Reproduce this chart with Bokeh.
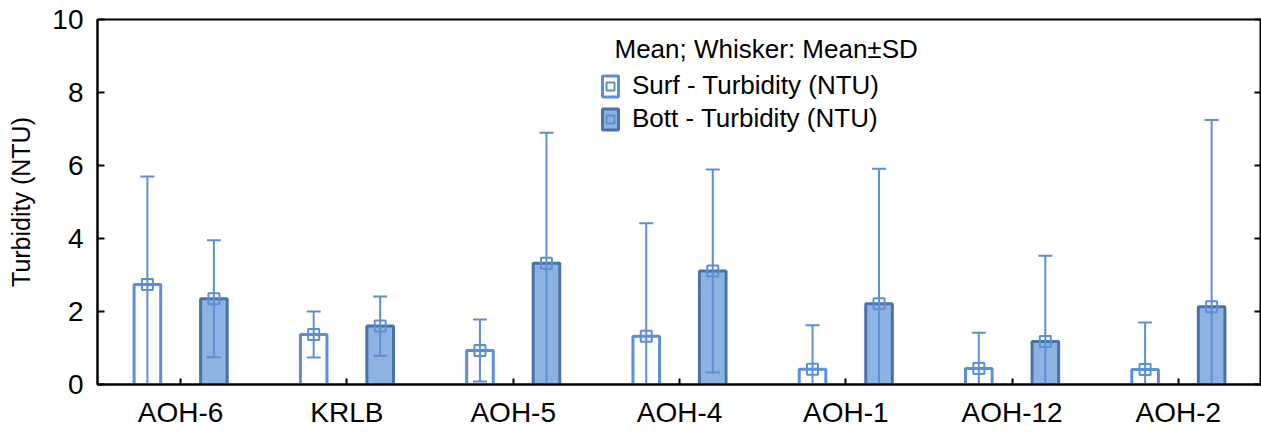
from bokeh.plotting import figure
from bokeh.models import (ColumnDataSource, FactorRange, Range1d, LinearAxis, Legend,
                          LegendItem, Label, FixedTicker, CustomLabelingPolicy)
from bokeh.transform import dodge
from bokeh.embed import file_html
from bokeh.resources import INLINE

stations = ["AOH-6", "KRLB", "AOH-5", "AOH-4", "AOH-1", "AOH-12", "AOH-2"]
surf_mean = [2.74, 1.37, 0.93, 1.32, 0.42, 0.44, 0.41]
surf_sd = [2.96, 0.63, 0.85, 3.10, 1.20, 0.98, 1.29]
bott_mean = [2.35, 1.60, 3.32, 3.11, 2.21, 1.18, 2.13]
bott_sd = [1.60, 0.81, 3.58, 2.78, 3.70, 2.35, 5.12]
y_ticks = [0, 2, 4, 6, 8, 10]

FONT = "Liberation Sans"
SURF_LINE = "#5b8fd6"
BOTT_FILL = "#8db3e2"
BOTT_LINE = "#4a72a8"
WHISK = "#5b8fd6"

src = ColumnDataSource(dict(
    station=stations,
    surf_mean=surf_mean,
    surf_lo=[m - s for m, s in zip(surf_mean, surf_sd)],
    surf_hi=[m + s for m, s in zip(surf_mean, surf_sd)],
    bott_mean=bott_mean,
    bott_lo=[m - s for m, s in zip(bott_mean, bott_sd)],
    bott_hi=[m + s for m, s in zip(bott_mean, bott_sd)],
))

p = figure(x_range=FactorRange(*stations), y_range=Range1d(0, 10),
           width=1261, height=432, output_backend="svg", toolbar_location=None,
           min_border_left=97, min_border_right=0, min_border_top=19, min_border_bottom=48)
p.xgrid.visible = False
p.ygrid.visible = False
p.outline_line_color = "black"
p.outline_line_width = 2
p.background_fill_color = "white"
p.border_fill_color = "white"

xs = dodge("station", -0.2, range=p.x_range)
xb = dodge("station", 0.2, range=p.x_range)
W = 0.16

surf_bar = p.vbar(x=xs, top="surf_mean", bottom=0, width=W, source=src,
                  fill_color="white", line_color=SURF_LINE, line_width=3)
bott_bar = p.vbar(x=xb, top="bott_mean", bottom=0, width=W, source=src,
                  fill_color=BOTT_FILL, line_color=BOTT_LINE, line_width=3)

for x, lo, hi in ((xs, "surf_lo", "surf_hi"), (xb, "bott_lo", "bott_hi")):
    p.segment(x0=x, y0=lo, x1=x, y1=hi, source=src, line_color=WHISK, line_width=2)
    p.scatter(x=x, y=hi, marker="dash", size=14, source=src, line_color=WHISK, line_width=2)
    p.scatter(x=x, y=lo, marker="dash", size=14, source=src, line_color=WHISK, line_width=2)

surf_mark = p.scatter(x=xs, y="surf_mean", marker="square", size=11, source=src,
                      fill_color=None, line_color=SURF_LINE, line_width=2)
bott_mark = p.scatter(x=xb, y="bott_mean", marker="square", size=11, source=src,
                      fill_color=None, line_color=WHISK, line_width=2)

# axes
ya = p.yaxis[0]
ya.ticker = FixedTicker(ticks=y_ticks)
ya.minor_tick_line_color = None
ya.major_tick_in = 7
ya.major_tick_out = 0
ya.major_tick_line_width = 2
ya.axis_line_width = 2
ya.major_label_text_font = FONT
ya.major_label_text_font_size = "28px"
ya.major_label_text_color = "black"
ya.major_label_standoff = 14
ya.axis_label = "Turbidity (NTU)"
ya.axis_label_text_font = FONT
ya.axis_label_text_font_style = "normal"
ya.axis_label_text_font_size = "25px"
ya.axis_label_text_color = "black"
ya.axis_label_standoff = 14

xa = p.xaxis[0]
xa.major_tick_in = 6
xa.major_tick_out = 0
xa.major_tick_line_width = 2
xa.axis_line_width = 2
xa.major_label_text_font = FONT
xa.major_label_text_font_size = "28px"
xa.major_label_text_color = "black"
xa.major_label_standoff = 12

ra = LinearAxis(ticker=FixedTicker(ticks=y_ticks))
ra.major_label_policy = CustomLabelingPolicy(
    code="const r = [...indices]; for (const i of r) indices.unset(i); return indices")
ra.major_label_text_font_size = "0px"
ra.major_label_standoff = 0
ra.axis_label_standoff = 0
ra.minor_tick_line_color = None
ra.major_tick_in = 7
ra.major_tick_out = 0
ra.major_tick_line_width = 2
ra.axis_line_width = 2
p.add_layout(ra, "right")

legend = Legend(items=[
    LegendItem(label="Surf - Turbidity (NTU)", renderers=[surf_bar, surf_mark]),
    LegendItem(label="Bott - Turbidity (NTU)", renderers=[bott_bar, bott_mark]),
], location=(503, 250), glyph_width=20, glyph_height=26, spacing=2,
    label_standoff=12, label_text_font=FONT, label_text_font_size="26px",
    label_text_color="black",
    border_line_color=None, background_fill_alpha=0, padding=0, margin=0)
p.add_layout(legend)

p.add_layout(Label(x=517, y=336, x_units="screen", y_units="screen",
                   text="Mean; Whisker: Mean±SD", text_font=FONT, text_color="black",
                   text_font_size="26px", text_baseline="middle"))

open("out.html", "w").write(file_html(p, INLINE))
